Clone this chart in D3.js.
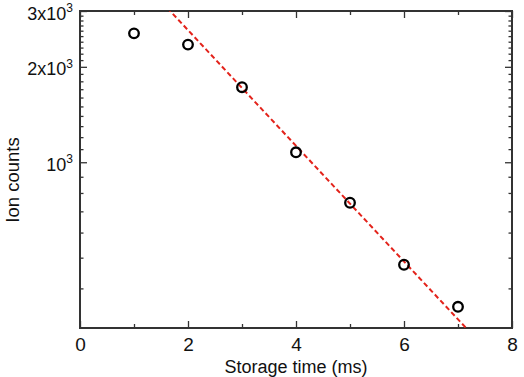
<!DOCTYPE html>
<html>
<head>
<meta charset="utf-8">
<script src="https://cdn.jsdelivr.net/npm/d3@7"></script>
<style>
  html, body { margin: 0; padding: 0; background: #fff; }
  svg { display: block; }
</style>
</head>
<body>
<svg id="chart" width="524" height="377"></svg>
<script>
// ---- data ----
const storageTime = [1, 2, 3, 4, 5, 6, 7];            // ms
const ionCounts   = [2550, 2350, 1725, 1075, 745, 475, 350];
const fitAmplitude = 6050;   // exponential fit A*exp(-t/tau)
const fitTau = 2.38;         // ms
const xMajorTicks = [0, 2, 4, 6, 8];
const xMinorTicks = [1, 3, 5, 7];
const yMajorTicks = [1000, 2000, 3000];
const yMajorLabels = [["", "10", "3"], ["2x", "10", "3"], ["3x", "10", "3"]];
const yMinorTicks = [400, 500, 600, 700, 800, 900,
  1100, 1200, 1300, 1400, 1500, 1600, 1700, 1800, 1900,
  2100, 2200, 2300, 2400, 2500, 2600, 2700, 2800, 2900];
const xTitle = "Storage time (ms)";
const yTitle = "Ion counts";

// ---- layout ----
const svg = d3.select("#chart");
const L = 80, R = 512, T = 11, B = 328;
const x = d3.scaleLinear().domain([0, 8]).range([L, R]);
const y = d3.scaleLog().domain([300, 3000]).range([B, T]);
const axisColor = "#333";
const font = "'Liberation Sans', Arial, sans-serif";

svg.append("defs").append("clipPath").attr("id", "clip")
  .append("rect").attr("x", L).attr("y", T).attr("width", R - L).attr("height", B - T);

function styleAxis(g) {
  g.select(".domain").remove();
  g.selectAll(".tick line").attr("stroke", axisColor).attr("stroke-width", 1.3);
}

// bottom axis
svg.append("g").attr("transform", `translate(0,${B})`)
  .call(d3.axisBottom(x).tickValues(xMajorTicks).tickSize(-7).tickPadding(10).tickFormat(d3.format("d")))
  .call(styleAxis)
  .call(g => g.selectAll("text").attr("fill", "#111")
    .style("font-family", font).style("font-size", "19px"));
svg.append("g").attr("transform", `translate(0,${B})`)
  .call(d3.axisBottom(x).tickValues(xMinorTicks).tickSize(-4).tickFormat(""))
  .call(styleAxis);
// top axis
svg.append("g").attr("transform", `translate(0,${T})`)
  .call(d3.axisTop(x).tickValues(xMajorTicks).tickSize(-7).tickFormat(""))
  .call(styleAxis);
svg.append("g").attr("transform", `translate(0,${T})`)
  .call(d3.axisTop(x).tickValues(xMinorTicks).tickSize(-4).tickFormat(""))
  .call(styleAxis);
// left axis
svg.append("g").attr("transform", `translate(${L},0)`)
  .call(d3.axisLeft(y).tickValues(yMajorTicks).tickSize(-7).tickFormat(""))
  .call(styleAxis);
svg.append("g").attr("transform", `translate(${L},0)`)
  .call(d3.axisLeft(y).tickValues(yMinorTicks).tickSize(-3.5).tickFormat(""))
  .call(styleAxis);
// right axis
svg.append("g").attr("transform", `translate(${R},0)`)
  .call(d3.axisRight(y).tickValues(yMajorTicks).tickSize(-7).tickFormat(""))
  .call(styleAxis);
svg.append("g").attr("transform", `translate(${R},0)`)
  .call(d3.axisRight(y).tickValues(yMinorTicks).tickSize(-3.5).tickFormat(""))
  .call(styleAxis);

// y labels with superscript
const yl = svg.append("g").style("font-family", font).attr("fill", "#111");
yMajorTicks.forEach((v, i) => {
  const [pre, base, sup] = yMajorLabels[i];
  const t = yl.append("text").attr("x", L - 7).attr("y", y(v) + 8.5).attr("text-anchor", "end")
    .style("font-size", "18px");
  t.append("tspan").text(pre + base);
  t.append("tspan").attr("dy", -7.5).style("font-size", "12px").text(sup);
});

// frame
svg.append("rect").attr("x", L).attr("y", T).attr("width", R - L).attr("height", B - T)
  .attr("fill", "none").attr("stroke", axisColor).attr("stroke-width", 2);

// fit line
const fitX = x.domain();
svg.append("path")
  .attr("clip-path", "url(#clip)")
  .datum(fitX.map(t => [t, fitAmplitude * Math.exp(-t / fitTau)]))
  .attr("d", d3.line().x(d => x(d[0])).y(d => y(d[1])))
  .attr("fill", "none").attr("stroke", "#e3231b").attr("stroke-width", 2)
  .attr("stroke-dasharray", "5,3");

// points
svg.append("g").selectAll("circle").data(storageTime).join("circle")
  .attr("cx", d => x(d)).attr("cy", (d, i) => y(ionCounts[i])).attr("r", 4.8)
  .attr("fill", "none").attr("stroke", "#000").attr("stroke-width", 2.3);

// titles
svg.append("text").attr("x", (L + R) / 2).attr("y", 372.5).attr("text-anchor", "middle")
  .style("font-family", font).style("font-size", "18px")
  .attr("fill", "#111").text(xTitle);
svg.append("text").attr("transform", `translate(19,${180}) rotate(-90)`).attr("text-anchor", "middle")
  .style("font-family", font).style("font-size", "18.5px")
  .attr("fill", "#111").text(yTitle);
</script>
</body>
</html>
